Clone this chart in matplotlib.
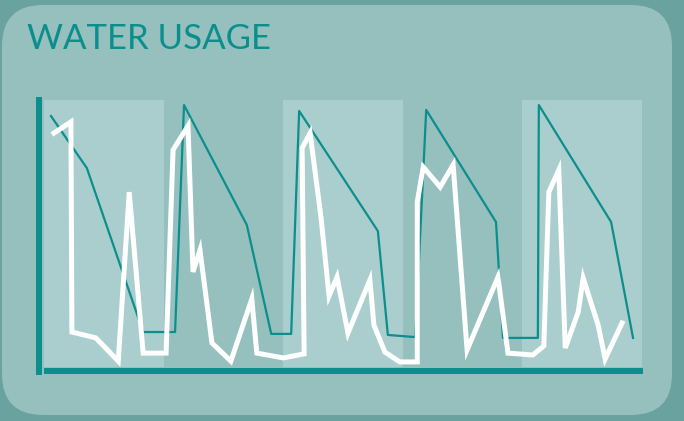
import matplotlib
matplotlib.use("Agg")
import matplotlib.pyplot as plt
from matplotlib.patches import FancyBboxPatch, Rectangle

# hours over five days
teal_x = [1.4, 8.6, 19.9, 26.3, 28.1, 40.7, 45.6, 49.6, 51.2, 67.0, 69.0, 74.5,
          76.7, 90.7, 92.1, 99.1, 99.3, 113.8, 118.2]
teal_y = [94.0, 74.5, 13.1, 13.1, 98.1, 53.2, 12.4, 12.4, 95.9, 50.9, 12.0, 11.2,
          96.3, 54.3, 10.9, 10.9, 98.1, 54.3, 10.9]

white_x = [2.0, 5.4, 5.6, 10.4, 14.9, 17.1, 19.9, 24.5, 25.9, 28.9, 29.9, 31.3,
           33.7, 37.5, 41.7, 42.7, 48.0, 52.2, 51.8, 53.4, 55.6, 57.2, 58.8, 61.0,
           65.4, 66.2, 68.4, 71.4, 74.9, 74.9, 76.1, 79.5, 82.1, 84.9, 91.1, 93.1,
           98.1, 100.3, 101.3, 103.3, 104.6, 107.2, 108.2, 111.2, 112.6, 116.0]
white_y = [87.6, 91.8, 13.1, 10.9, 2.2, 65.5, 5.2, 5.2, 81.3, 90.3, 35.6, 43.8,
           9.0, 2.2, 25.5, 5.2, 3.4, 4.9, 82.0, 87.6, 55.8, 26.6, 33.7, 12.7,
           32.6, 15.7, 5.6, 1.9, 1.9, 61.8, 74.9, 67.4, 75.7, 6.4, 33.7, 5.2,
           4.5, 7.9, 65.5, 73.8, 7.1, 20.6, 33.3, 15.7, 3.0, 16.5]

day_starts = [0, 24, 48, 72, 96]

TEAL = "#0b8f8c"
W, H = 684, 421

fig = plt.figure(figsize=(6.84, 4.21), dpi=100)
fig.patch.set_facecolor("#6aa2a0")

# rounded card
card = FancyBboxPatch((2 / W, 6 / H), 670 / W, 410 / H,
                      boxstyle="round,pad=0,rounding_size=0.06",
                      mutation_aspect=W / H,
                      transform=fig.transFigure, facecolor="#95c0be",
                      edgecolor="none", zorder=-1)
fig.patches.append(card)

fig.text(27 / W, 1 - 49 / H, "WATER USAGE", color=TEAL, fontsize=25,
         family="Lato", ha="left", va="baseline")

ax = fig.add_axes([44 / W, 1 - 367 / H, 598 / W, 267 / H])
ax.set_facecolor("none")
ax.set_xlim(0, 120)
ax.set_ylim(0, 100)
for s in ax.spines.values():
    s.set_visible(False)
ax.set_xticks([])
ax.set_yticks([])

for i, d in enumerate(day_starts):
    if i % 2 == 0:
        ax.axvspan(d, d + 24, color="#aacecd", lw=0, zorder=1)

# axis bars
ax.add_patch(Rectangle((-0.0134, -0.03), 0.0101, 1.041, transform=ax.transAxes,
                       facecolor=TEAL, edgecolor="none", clip_on=False, zorder=5))
ax.add_patch(Rectangle((0.0, -0.026), 1.002, 0.022, transform=ax.transAxes,
                       facecolor=TEAL, edgecolor="none", clip_on=False, zorder=5))

ax.plot(teal_x, teal_y, color=TEAL, lw=1.6, zorder=3, clip_on=False)
ax.plot(white_x, white_y, color="white", lw=3.6, zorder=4, clip_on=False,
        solid_joinstyle="miter")

fig.savefig("out.png", dpi=100, facecolor=fig.get_facecolor())
